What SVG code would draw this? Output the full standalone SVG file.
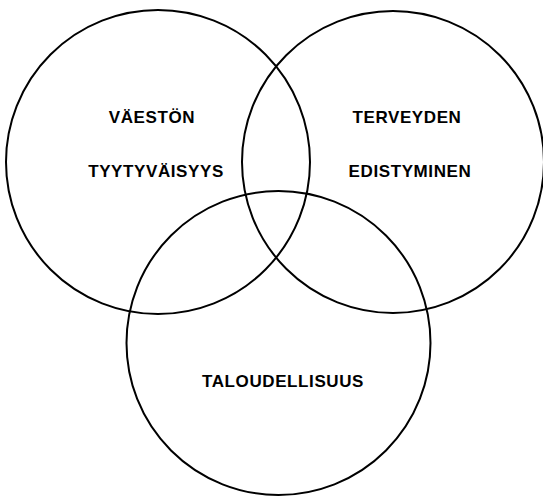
<svg xmlns="http://www.w3.org/2000/svg" width="543" height="496" viewBox="0 0 543 496">
<style>
.c{fill:none;stroke:#000;stroke-width:2}
.t{font-family:"Liberation Sans",Arial,sans-serif;font-weight:bold;font-size:17px;letter-spacing:0.6px;text-anchor:middle;fill:#000}
</style>
<rect width="543" height="496" fill="#fff"/>
<g id="vaeston">
<circle class="c" cx="158" cy="162" r="152"/>
<text class="t" x="152" y="123">VÄESTÖN</text>
<text class="t" x="156" y="177">TYYTYVÄISYYS</text>
</g>
<g id="terveyden">
<circle class="c" cx="393" cy="162" r="151"/>
<text class="t" x="407" y="123">TERVEYDEN</text>
<text class="t" x="410" y="177">EDISTYMINEN</text>
</g>
<g id="taloudellisuus">
<circle class="c" cx="278.5" cy="343" r="152"/>
<text class="t" x="283" y="387">TALOUDELLISUUS</text>
</g>
<g id="connectors"></g>
</svg>
